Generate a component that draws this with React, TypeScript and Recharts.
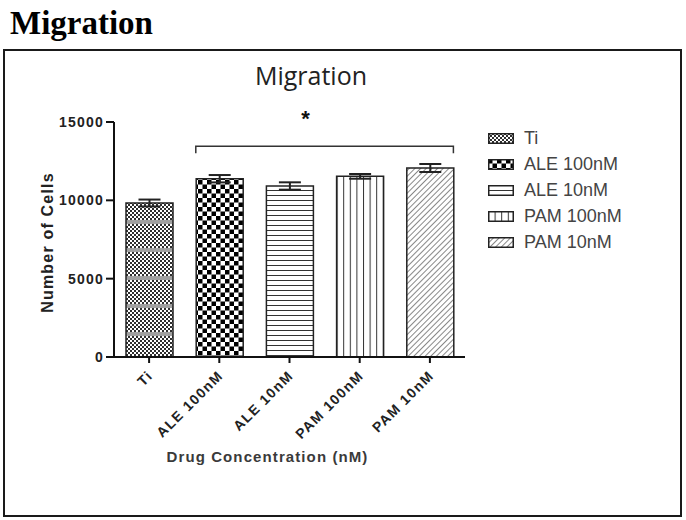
import React from 'react';
import { BarChart, Bar, XAxis, YAxis, Cell, ErrorBar, Legend, ReferenceLine, Label } from 'recharts';

const categories = ['Ti', 'ALE 100nM', 'ALE 10nM', 'PAM 100nM', 'PAM 10nM'];
const cellCounts = [9830, 11380, 10915, 11530, 12065];
const sems = [220, 235, 235, 150, 255];
const yTicks = [0, 5000, 10000, 15000];
const patternIds = ['p-ti', 'p-ale100', 'p-ale10', 'p-pam100', 'p-pam10'];
const bracketFrom = 'ALE 100nM';
const bracketTo = 'PAM 10nM';
const bracketLevel = 13450;
const significance = '*';

const data = categories.map((name, i) => ({ name, value: cellCounts[i], err: sems[i] }));

const BAR_SIZE = 47;

const Patterns = () => (
  <svg width={0} height={0} style={{ position: 'absolute' }}>
    <defs>
      <pattern id="p-ti" width={4} height={28} patternUnits="userSpaceOnUse">
        <rect width={4} height={28} fill="#fff" />
        {Array.from({ length: 6 }).map((_, r) => (
          <g key={r}>
            <rect x={0} y={r * 4} width={2} height={2} fill="#2e2e2e" />
            <rect x={2} y={r * 4 + 2} width={2} height={2} fill="#2e2e2e" />
          </g>
        ))}
        <rect x={0} y={24} width={4} height={4} fill="#a0a0a0" />
      </pattern>
      <pattern id="p-ale100" width={9} height={9} patternUnits="userSpaceOnUse">
        <rect width={9} height={9} fill="#fff" />
        <rect x={0} y={0} width={4.5} height={4.5} fill="#000" />
        <rect x={4.5} y={4.5} width={4.5} height={4.5} fill="#000" />
      </pattern>
      <pattern id="p-ale10" width={10} height={5} patternUnits="userSpaceOnUse">
        <rect width={10} height={5} fill="#fff" />
        <line x1={0} y1={0.5} x2={10} y2={0.5} stroke="#333" strokeWidth={1} />
      </pattern>
      <pattern id="p-pam100" width={6.6} height={10} patternUnits="userSpaceOnUse">
        <rect width={6.6} height={10} fill="#fff" />
        <line x1={0.5} y1={0} x2={0.5} y2={10} stroke="#333" strokeWidth={1} />
      </pattern>
      <pattern id="p-pam10" width={4} height={4} patternUnits="userSpaceOnUse" patternTransform="rotate(45)">
        <rect width={4} height={4} fill="#fff" />
        <line x1={0} y1={0} x2={0} y2={4} stroke="#555" strokeWidth={1.4} />
      </pattern>
    </defs>
  </svg>
);

const XTick = (props: any) => {
  const { x, y, payload } = props;
  return (
    <g transform={`translate(${x - 1},${y + 6})`}>
      <text
        x={0}
        y={0}
        dy={8}
        textAnchor="end"
        transform="rotate(-45)"
        fontFamily="Liberation Sans, Arial, sans-serif"
        fontWeight="bold"
        fontSize={14}
        letterSpacing={1.3}
        fill="#222"
      >
        {payload.value}
      </text>
    </g>
  );
};

const YTick = (props: any) => {
  const { x, y, payload } = props;
  return (
    <text
      x={x}
      y={y}
      dy={5}
      textAnchor="end"
      fontFamily="Liberation Sans, Arial, sans-serif"
      fontWeight="bold"
      fontSize={14}
      letterSpacing={1.2}
      fill="#222"
    >
      {payload.value}
    </text>
  );
};

const Bracket = (props: any) => {
  const { x1, y1, x2 } = props;
  const left = x1 - BAR_SIZE / 2;
  const right = x2 + BAR_SIZE / 2;
  return (
    <g>
      <path
        d={`M${left},${y1 + 7} L${left},${y1} L${right},${y1} L${right},${y1 + 7}`}
        fill="none"
        stroke="#333"
        strokeWidth={1.5}
      />
      <text
        x={(left + right) / 2 - 19}
        y={y1 - 20}
        textAnchor="middle"
        fontFamily="Liberation Sans, Arial, sans-serif"
        fontWeight="bold"
        fontSize={22}
        fill="#111"
      >
        {significance}
      </text>
    </g>
  );
};

const LegendContent = () => (
  <div style={{ fontFamily: 'Liberation Sans, Arial, sans-serif' }}>
    {categories.map((c, i) => (
      <div key={c} style={{ display: 'flex', alignItems: 'center', height: 26 }}>
        <svg width={26} height={11} style={{ marginRight: 10 }}>
          <rect x={0.75} y={0.75} width={24.5} height={9.5} fill={`url(#${patternIds[i]})`} stroke="#222" strokeWidth={1.5} />
        </svg>
        <span style={{ fontSize: 18, color: '#444', lineHeight: '26px' }}>{c}</span>
      </div>
    ))}
  </div>
);

export default function App() {
  return (
    <div style={{ position: 'absolute', left: 0, top: 0, width: 686, height: 520, background: '#fff' }}>
      <Patterns />
      <div
        style={{
          position: 'absolute',
          left: 10,
          top: 7,
          fontFamily: 'Liberation Serif, Times New Roman, serif',
          fontWeight: 'bold',
          fontSize: 33,
          lineHeight: '33px',
          color: '#000',
        }}
      >
        Migration
      </div>
      <div
        style={{
          position: 'absolute',
          left: 3,
          top: 49,
          width: 679,
          height: 468,
          border: '2px solid #1a1a1a',
          boxSizing: 'border-box',
        }}
      />
      <div style={{ position: 'absolute', left: 0, top: 60, width: 686 }}>
        <span
          style={{
            position: 'absolute',
            left: 311,
            transform: 'translateX(-50%)',
            fontFamily: 'Open Sans, sans-serif',
            fontSize: 25,
            color: '#222',
            whiteSpace: 'nowrap',
            lineHeight: '30px',
          }}
        >
          Migration
        </span>
      </div>
      <div style={{ position: 'absolute', left: 0, top: 0 }}>
        <BarChart
          width={686}
          height={520}
          data={data}
          margin={{ top: 122, right: 221, bottom: 0, left: 0 }}
          barSize={BAR_SIZE}
        >
          <XAxis
            dataKey="name"
            height={163}
            axisLine={{ stroke: '#111', strokeWidth: 2 }}
            tickLine={{ stroke: '#111', strokeWidth: 2 }}
            tickSize={6}
            tick={<XTick />}
            interval={0}
          >
            <Label
              content={(p: any) => {
                const vb = p.viewBox;
                return (
                  <text
                    x={vb.x + vb.width / 2 - 22}
                    y={vb.y + 105}
                    textAnchor="middle"
                    fontFamily="Liberation Sans, Arial, sans-serif"
                    fontWeight="bold"
                    fontSize={15}
                    letterSpacing={1.1}
                    fill="#3a3a3a"
                  >
                    Drug Concentration (nM)
                  </text>
                );
              }}
            />
          </XAxis>
          <YAxis
            width={114}
            domain={[0, 15000]}
            ticks={yTicks}
            interval={0}
            axisLine={{ stroke: '#111', strokeWidth: 2 }}
            tickLine={{ stroke: '#111', strokeWidth: 2 }}
            tickSize={8}
            tickMargin={2}
            tick={<YTick />}
          >
            <Label
              content={(p: any) => {
                const vb = p.viewBox;
                const cx = 47;
                const cy = vb.y + vb.height / 2 + 3;
                return (
                  <text
                    x={cx}
                    y={cy}
                    transform={`rotate(-90 ${cx} ${cy})`}
                    textAnchor="middle"
                    dominantBaseline="central"
                    fontFamily="Liberation Sans, Arial, sans-serif"
                    fontWeight="bold"
                    fontSize={16}
                    letterSpacing={1.2}
                    fill="#222"
                  >
                    Number of Cells
                  </text>
                );
              }}
            />
          </YAxis>
          <Legend
            layout="vertical"
            align="center"
            verticalAlign="middle"
            wrapperStyle={{ left: 488, top: 125, width: 170 }}
            content={<LegendContent />}
          />
          <ReferenceLine
            segment={[
              { x: bracketFrom, y: bracketLevel },
              { x: bracketTo, y: bracketLevel },
            ]}
            shape={<Bracket />}
            ifOverflow="visible"
          />
          <Bar dataKey="value" isAnimationActive={false} stroke="#222" strokeWidth={1.5}>
            {data.map((d, i) => (
              <Cell key={d.name} fill={`url(#${patternIds[i]})`} />
            ))}
            <ErrorBar dataKey="err" width={11} stroke="#222" strokeWidth={2} direction="y" />
          </Bar>
        </BarChart>
      </div>
    </div>
  );
}
